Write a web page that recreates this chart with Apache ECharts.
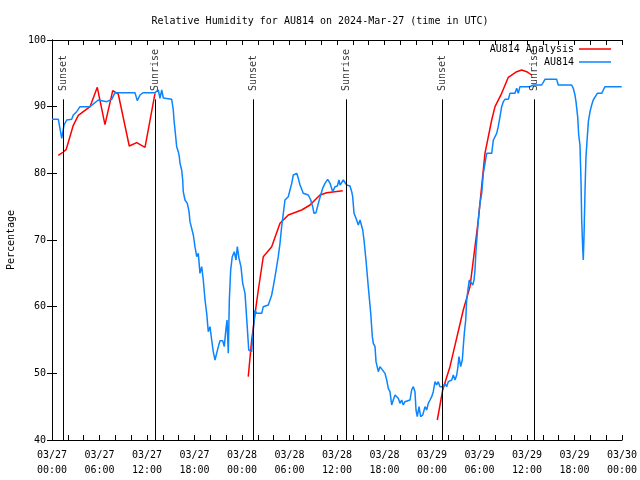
<!DOCTYPE html>
<html><head><meta charset="utf-8">
<script src="https://cdn.jsdelivr.net/npm/echarts@6/dist/echarts.min.js"></script>
<style>html,body{margin:0;padding:0;background:#fff}#c{width:640px;height:480px}</style>
</head><body><div id="c"></div>
<script>
// x values are hours since 2024-03-27 00:00 UTC
const xTickLabels = ['03/27\n00:00','03/27\n06:00','03/27\n12:00','03/27\n18:00','03/28\n00:00','03/28\n06:00','03/28\n12:00','03/28\n18:00','03/29\n00:00','03/29\n06:00','03/29\n12:00','03/29\n18:00','03/30\n00:00'];
const yTickValues = [40,50,60,70,80,90,100];

const sunNames = ['Sunset','Sunrise','Sunset','Sunrise','Sunset','Sunrise'];
const sunHours = [1.39,13.01,25.39,37.14,49.26,60.88];
const sunLineTop = 91.1;
const sunLabelBase = 92.2;

const analysisHours = [0.8,1.43,1.8,2.69,3.32,4.8,5.72,6.69,7.67,8.37,9.76,10.7,11.75,13.01,
  19,
  24.79,25.22,25.77,26.06,26.69,27.75,28.8,29.85,31.54,32.59,33.85,34.7,36.72,
  43,
  48.67,49.35,50.27,51.95,52.8,53.85,54.69,55.54,55.96,56.8,57.64,58.7,59.33,59.96,60.59];
const analysisValues = [82.7,83.2,83.6,87.2,88.7,90,92.9,87.3,92.4,91.9,84.1,84.6,83.9,92,
  null,
  49.5,55,60,62.5,67.5,69,72.5,73.75,74.5,75.25,76.75,77.1,77.4,
  null,
  43,47.5,51,59.5,63,73,83,88,90,92,94.4,95.25,95.5,95.25,94.75];

const obsHours = [0,0.8,1.23,1.52,1.86,2.49,2.69,3.12,3.54,4.8,5.85,6.91,7.54,7.96,10.48,10.77,11.12,11.53,13.01,13.43,13.64,13.86,14.06,14.27,15.12,15.32,15.41,15.54,15.75,15.95,16.08,16.17,16.38,16.51,16.58,16.8,17.09,17.31,17.43,17.65,17.85,18.06,18.28,18.48,18.69,18.91,19.11,19.33,19.54,19.74,19.96,20.17,20.37,20.59,20.8,21.01,21.22,21.56,21.76,21.98,22.11,22.27,22.4,22.57,22.77,23.03,23.24,23.41,23.62,23.87,24.09,24.38,24.66,24.85,25.0,25.22,25.43,25.64,25.85,26.49,26.69,27.32,27.54,27.75,27.95,28.17,28.38,28.58,28.8,29.01,29.22,29.43,29.85,30.06,30.28,30.48,30.91,31.11,31.33,31.74,32.37,32.68,32.93,33.09,33.35,33.64,33.94,34.19,34.48,34.82,35.12,35.46,35.75,36.04,36.25,36.38,36.59,36.8,37.01,37.22,37.64,37.86,37.98,38.15,38.4,38.69,38.91,39.25,39.41,39.66,39.95,40.26,40.46,40.59,40.8,40.93,41.22,41.43,41.65,42.06,42.28,42.48,42.69,42.91,43.11,43.33,43.54,43.74,43.96,44.17,44.37,44.59,44.8,45.22,45.43,45.64,45.85,45.98,46.14,46.36,46.57,46.83,47.12,47.33,47.53,47.75,47.96,48.16,48.38,48.59,48.79,49.01,49.22,49.43,49.64,49.85,50.06,50.49,50.69,50.91,51.12,51.25,51.41,51.62,51.83,51.95,52.08,52.26,52.38,52.59,52.71,52.93,53.14,53.31,53.43,53.56,53.72,53.85,54.06,54.28,54.48,54.91,55.54,55.75,56.17,56.37,56.59,56.8,57.01,57.22,57.64,57.85,58.48,58.7,58.9,59.11,60.37,60.8,61.86,62.27,63.75,63.95,65.64,65.85,66.06,66.19,66.28,66.4,66.53,66.69,66.82,66.91,67.03,67.11,67.2,67.33,67.45,67.62,67.75,67.96,68.17,68.37,68.59,68.88,69.43,69.64,69.85,71.96];
const obsValues = [88.1,88.1,85.25,87.25,88,88.1,88.75,89.25,90,90,91,90.75,91.1,92.1,92.1,90.9,91.75,92.1,92.1,92.5,91.25,92.5,91.3,91.1,91.1,89.5,88,86.5,84,83.25,82.5,81.5,80.5,79,77.25,76,75.5,74.25,72.75,73,70.75,69,67.5,68,65,66,64,61,59,56.25,57,55,53.25,52,53,54,54.9,54.9,54,56.75,58,53,61,65.5,67.5,68.25,67,69,67.25,66,63.5,62,57,53.5,53.25,53.25,56.5,59.5,59,59,60,60.25,61,61.75,63,64.5,66,67.5,69.5,72,74,76,76.5,77.5,78.5,79.75,80,79.25,78.25,77,76.75,76,75,74,74.1,75.5,76.75,77.75,78.5,79.1,78.5,77.25,78,78.1,79,78.25,78.5,79,79.1,78.25,78.1,77.25,76.5,74,73.25,72.25,73,71.5,70,67,63,59,55.5,54.5,54,51.75,50.25,51,50.75,50,49,47.75,47.25,45.25,46,46.75,47,46.25,45.5,46,45.25,45.75,46,46,47.5,48,47.25,44.5,43.5,45,43.5,43.75,45,44.5,45.5,46,46.5,47.25,48.75,48.25,48.75,48,48,48,48.5,48,48.75,49,49.75,49,49.75,50.75,52.5,51,52,54,56,58,61,63,64,64,63.25,64,65.5,68.5,71,73,75.5,77,80,83,83,85,86,87,88.5,90,90.75,91.1,91.1,92,92,92.75,92,93,93,93.25,93.25,94.1,94.1,93.25,93.25,92.75,91.75,90.75,89.75,88.5,85.75,84.25,79,73,69,67,70.5,77.5,82.5,85.5,87.75,89.25,90.25,91,91.25,92,92,92.5,93,93];

const zip = (a, b) => a.map((x, i) => [x, b[i]]);
const FONT = 'DejaVu Sans Mono';
const txt = {fontFamily: FONT, fontSize: 10, color: '#000'};

const chart = echarts.init(document.getElementById('c'), null, {renderer: 'canvas'});
const xBase = {
  type: 'value', min: 0, max: 72, interval: 6,
  axisLine: {show: true, lineStyle: {color: '#000', width: 1}},
  axisTick: {show: true, inside: true, length: 5, lineStyle: {color: '#000'}},
  minorTick: {show: true, splitNumber: 3, length: 5, lineStyle: {color: '#000'}},
  splitLine: {show: false}
};
const yBase = {
  type: 'value', min: 40, max: 100, interval: 10,
  axisLine: {show: true, lineStyle: {color: '#000', width: 1}},
  axisTick: {show: true, inside: true, length: 5, lineStyle: {color: '#000'}},
  splitLine: {show: false}
};

chart.setOption({
  animation: false,
  backgroundColor: '#fff',
  title: {text: 'Relative Humidity for AU814 on 2024-Mar-27 (time in UTC)', left: 'center', top: 11,
    textStyle: Object.assign({}, txt, {fontWeight: 'normal'})},
  grid: {left: 52, right: 18, top: 40, bottom: 40, containLabel: false, outerBoundsMode: 'none'},
  legend: [
    {data: ['AU814 Analysis'], orient: 'vertical', align: 'right', right: 29, top: 44, itemWidth: 32, itemHeight: 1.5,
     icon: 'rect', textStyle: txt, padding: 0},
    {data: ['AU814'], orient: 'vertical', align: 'right', right: 29, top: 57, itemWidth: 32, itemHeight: 1.5,
     icon: 'rect', textStyle: txt, padding: 0}
  ],
  xAxis: [
    Object.assign({}, xBase, {position: 'bottom',
      axisLabel: Object.assign({}, txt, {margin: 8, lineHeight: 15,
        formatter: v => xTickLabels[Math.round(v / 6)]})}),
    Object.assign({}, xBase, {position: 'top', axisLabel: {show: false}})
  ],
  yAxis: [
    Object.assign({}, yBase, {position: 'left', name: 'Percentage', nameLocation: 'middle', nameGap: 36,
      nameTextStyle: txt,
      axisLabel: Object.assign({}, txt, {margin: 6, formatter: v => yTickValues.includes(v) ? String(v) : ''})}),
    Object.assign({}, yBase, {position: 'right', axisLabel: {show: false}})
  ],
  series: [
    {name: 'AU814 Analysis', type: 'line', data: zip(analysisHours, analysisValues), showSymbol: false,
     connectNulls: false, lineStyle: {color: '#ff0000', width: 1.5}, itemStyle: {color: '#ff0000'}, z: 3},
    {name: 'AU814', type: 'line', data: zip(obsHours, obsValues), showSymbol: false,
     lineStyle: {color: '#0a84ff', width: 1.5}, itemStyle: {color: '#0a84ff'}, z: 4},
    {name: 'sun', type: 'line', data: [], silent: true,
     markLine: {silent: true, symbol: 'none', label: {show: false},
       lineStyle: {color: '#000', width: 1, type: 'solid'},
       data: sunHours.map(h => [{coord: [h, 40]}, {coord: [h, sunLineTop]}])}, z: 5},
    {name: 'sunLabels', type: 'scatter', symbolSize: 0, silent: true, z: 6,
     data: sunHours.map((h, i) => ({value: [h, sunLabelBase], name: sunNames[i]})),
     label: Object.assign({}, txt, {show: true, rotate: 90, position: 'inside', align: 'left',
       verticalAlign: 'middle', offset: [1, 0], formatter: p => p.name})}
  ]
});
</script></body></html>
